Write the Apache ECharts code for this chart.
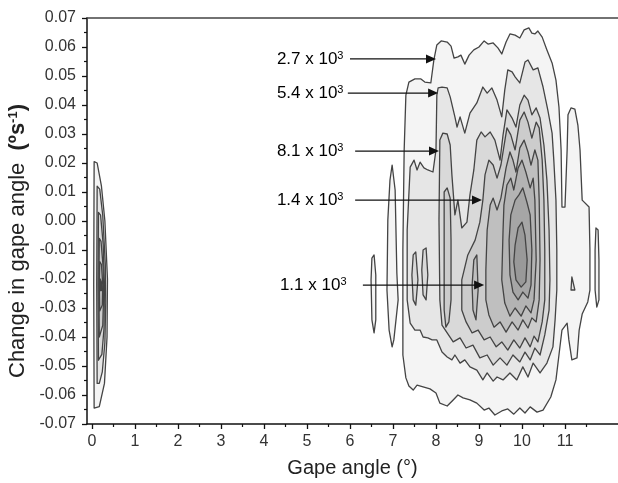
<!DOCTYPE html>
<html><head><meta charset="utf-8">
<script src="https://cdn.jsdelivr.net/npm/echarts@6.0.0/dist/echarts.min.js"></script>
<style>html,body{margin:0;padding:0;background:#fff}#c{width:618px;height:483px}</style>
</head><body><div id="c"></div>
<script>
// ---- axis ticks ----
const xTickValues = [0, 1, 2, 3, 4, 5, 6, 7, 8, 9, 10, 11];
const xMinorTickValues = [0.5, 1.5, 2.5, 3.5, 4.5, 5.5, 6.5, 7.5, 8.5, 9.5, 10.5, 11.5];
const yTickLabels = ['-0.07','-0.06','-0.05','-0.04','-0.03','-0.02','-0.01','0.00','0.01','0.02','0.03','0.04','0.05','0.06','0.07'];

// ---- contour levels (density, counts) ----
const contourLevels = [2700, 5400, 8100, 10800, 13500, 16200, 18900, 21600];

// ---- contour polygons: [gape angle (deg), change in gape angle (deg/s)] ----
const nearZeroLevel1 = [[0.05,0.0205],[0.12,0.020],[0.22,0.012],[0.30,0.000],[0.36,-0.020],[0.35,-0.040],[0.29,-0.056],[0.17,-0.064],[0.05,-0.0645],[0.04,-0.022]];
const nearZeroLevel2 = [[0.12,0.012],[0.18,0.011],[0.25,0.002],[0.31,-0.015],[0.32,-0.028],[0.30,-0.042],[0.24,-0.052],[0.17,-0.056],[0.12,-0.056],[0.11,-0.022]];
const nearZeroLevel3 = [[0.15,0.003],[0.20,0.002],[0.26,-0.008],[0.29,-0.022],[0.28,-0.037],[0.23,-0.046],[0.15,-0.048],[0.14,-0.022]];
const nearZeroLevel4 = [[0.17,-0.006],[0.21,-0.007],[0.26,-0.016],[0.27,-0.026],[0.25,-0.036],[0.17,-0.040],[0.16,-0.022]];
const nearZeroLevel5 = [[0.18,-0.014],[0.22,-0.015],[0.25,-0.022],[0.24,-0.029],[0.18,-0.031],[0.17,-0.022]];
const nearZeroLevel6 = [[0.19,-0.020],[0.22,-0.021],[0.22,-0.024],[0.19,-0.024]];

const mainLevel1 = [[7.23,-0.0462],[7.23,-0.0100],[7.26,0.0245],[7.30,0.0434],[7.37,0.0479],[7.51,0.0490],[7.65,0.0490],[7.74,0.0479],[7.88,0.0476],[7.95,0.0555],[8.02,0.0607],[8.12,0.0621],[8.26,0.0617],[8.35,0.0603],[8.42,0.0562],[8.51,0.0566],[8.58,0.0572],[8.67,0.0541],[8.77,0.0572],[8.88,0.0590],[9.00,0.0600],[9.12,0.0621],[9.21,0.0610],[9.33,0.0614],[9.44,0.0597],[9.53,0.0576],[9.63,0.0617],[9.72,0.0645],[9.84,0.0641],[9.95,0.0631],[10.05,0.0659],[10.16,0.0666],[10.23,0.0648],[10.30,0.0645],[10.37,0.0655],[10.47,0.0634],[10.58,0.0590],[10.70,0.0545],[10.79,0.0486],[10.86,0.0393],[10.91,0.0245],[10.93,0.0048],[11.00,0.0048],[11.05,0.0245],[11.07,0.0366],[11.14,0.0390],[11.23,0.0386],[11.30,0.0331],[11.35,0.0245],[11.40,0.0072],[11.56,0.0048],[11.58,-0.0100],[11.58,-0.0238],[11.53,-0.0279],[11.40,-0.0321],[11.33,-0.0376],[11.28,-0.0472],[11.16,-0.0479],[11.09,-0.0410],[11.05,-0.0352],[10.93,-0.0376],[10.86,-0.0462],[10.79,-0.0548],[10.67,-0.0607],[10.49,-0.0652],[10.35,-0.0659],[10.19,-0.0641],[10.07,-0.0662],[9.95,-0.0645],[9.81,-0.0666],[9.67,-0.0648],[9.53,-0.0655],[9.37,-0.0669],[9.23,-0.0645],[9.12,-0.0652],[8.95,-0.0628],[8.79,-0.0617],[8.63,-0.0610],[8.51,-0.0600],[8.40,-0.0617],[8.26,-0.0638],[8.09,-0.0628],[8.00,-0.0593],[7.86,-0.0579],[7.70,-0.0572],[7.56,-0.0566],[7.47,-0.0583],[7.37,-0.0569],[7.30,-0.0541]];
const islandLevel1A = [[6.51,-0.0128],[6.56,-0.0117],[6.60,-0.0186],[6.60,-0.0341],[6.56,-0.0386],[6.51,-0.0341],[6.49,-0.0203]];
const islandLevel1B = [[6.98,0.0193],[7.05,0.0107],[7.09,-0.0179],[7.12,-0.0272],[7.02,-0.0410],[6.98,-0.0434],[6.91,-0.0376],[6.86,-0.0238],[6.88,0.0003],[6.93,0.0141]];
const islandLevel1C = [[11.72,-0.0024],[11.77,-0.0031],[11.79,-0.0134],[11.79,-0.0272],[11.74,-0.0297],[11.70,-0.0238],[11.70,-0.0100]];
const islandLevel2A = [[11.16,-0.0193],[11.23,-0.0238],[11.14,-0.0238]];

const mainLevel2 = [[7.40,0.0186],[7.49,0.0210],[7.56,0.0176],[7.63,0.0203],[7.72,0.0183],[7.81,0.0176],[7.93,0.0169],[8.00,0.0245],[8.02,0.0434],[8.05,0.0459],[8.14,0.0462],[8.26,0.0459],[8.33,0.0428],[8.44,0.0359],[8.49,0.0324],[8.56,0.0359],[8.67,0.0303],[8.79,0.0372],[8.95,0.0407],[9.09,0.0462],[9.19,0.0441],[9.30,0.0459],[9.42,0.0417],[9.53,0.0359],[9.60,0.0452],[9.67,0.0521],[9.77,0.0514],[9.84,0.0497],[9.95,0.0476],[10.07,0.0548],[10.14,0.0555],[10.26,0.0521],[10.37,0.0528],[10.49,0.0462],[10.60,0.0383],[10.70,0.0303],[10.74,0.0210],[10.79,0.0072],[10.81,-0.0100],[10.81,-0.0238],[10.77,-0.0341],[10.72,-0.0434],[10.58,-0.0490],[10.42,-0.0524],[10.26,-0.0490],[10.14,-0.0538],[10.02,-0.0503],[9.88,-0.0548],[9.72,-0.0524],[9.56,-0.0548],[9.42,-0.0538],[9.33,-0.0552],[9.19,-0.0524],[9.09,-0.0548],[8.95,-0.0514],[8.79,-0.0503],[8.67,-0.0479],[8.56,-0.0490],[8.44,-0.0462],[8.37,-0.0479],[8.26,-0.0469],[8.14,-0.0452],[8.02,-0.0410],[7.91,-0.0410],[7.81,-0.0403],[7.70,-0.0400],[7.63,-0.0376],[7.51,-0.0376],[7.40,-0.0352],[7.33,-0.0272],[7.33,-0.0031]];

const mainLevel3 = [[8.09,0.0279],[8.16,0.0303],[8.26,0.0300],[8.33,0.0262],[8.37,0.0159],[8.44,0.0021],[8.51,0.0072],[8.60,-0.0024],[8.72,-0.0004],[8.79,0.0090],[8.88,0.0176],[8.95,0.0279],[9.05,0.0307],[9.14,0.0290],[9.26,0.0307],[9.37,0.0279],[9.49,0.0210],[9.56,0.0297],[9.65,0.0383],[9.77,0.0355],[9.86,0.0324],[9.95,0.0400],[10.05,0.0434],[10.14,0.0417],[10.23,0.0366],[10.33,0.0390],[10.42,0.0355],[10.51,0.0262],[10.58,0.0141],[10.63,-0.0031],[10.65,-0.0203],[10.63,-0.0307],[10.53,-0.0393],[10.42,-0.0462],[10.30,-0.0438],[10.19,-0.0479],[10.07,-0.0452],[9.95,-0.0486],[9.79,-0.0462],[9.65,-0.0497],[9.49,-0.0472],[9.33,-0.0497],[9.19,-0.0462],[9.02,-0.0472],[8.86,-0.0428],[8.70,-0.0438],[8.56,-0.0403],[8.40,-0.0417],[8.26,-0.0386],[8.14,-0.0359],[8.09,-0.0272],[8.07,0.0003]];
const islandLevel3A = [[7.47,-0.0117],[7.53,-0.0107],[7.58,-0.0203],[7.53,-0.0290],[7.47,-0.0272],[7.44,-0.0186]];
const islandLevel3B = [[7.70,-0.0100],[7.77,-0.0093],[7.81,-0.0186],[7.77,-0.0272],[7.70,-0.0255],[7.67,-0.0169]];

const sideLevel4 = [[8.19,0.0100],[8.26,0.0114],[8.33,0.0079],[8.35,-0.0066],[8.35,-0.0272],[8.30,-0.0348],[8.23,-0.0366],[8.19,-0.0307],[8.19,-0.0031]];
const mainLevel4 = [[9.09,0.0072],[9.14,0.0159],[9.23,0.0210],[9.33,0.0193],[9.42,0.0148],[9.51,0.0193],[9.65,0.0321],[9.74,0.0297],[9.84,0.0245],[9.95,0.0348],[10.05,0.0376],[10.14,0.0341],[10.23,0.0286],[10.33,0.0341],[10.40,0.0321],[10.47,0.0210],[10.51,0.0072],[10.53,-0.0100],[10.53,-0.0272],[10.47,-0.0348],[10.37,-0.0417],[10.28,-0.0397],[10.19,-0.0434],[10.07,-0.0403],[9.95,-0.0438],[9.81,-0.0410],[9.67,-0.0445],[9.53,-0.0417],[9.40,-0.0434],[9.26,-0.0400],[9.12,-0.0410],[8.98,-0.0376],[8.84,-0.0386],[8.70,-0.0348],[8.60,-0.0307],[8.60,-0.0203],[8.74,-0.0117],[8.91,-0.0066],[9.02,-0.0004]];

const mainLevel5 = [[9.16,-0.0169],[9.19,-0.0031],[9.26,0.0055],[9.33,0.0079],[9.42,0.0038],[9.51,0.0079],[9.63,0.0183],[9.72,0.0238],[9.79,0.0210],[9.86,0.0169],[9.95,0.0252],[10.05,0.0279],[10.14,0.0238],[10.21,0.0193],[10.30,0.0245],[10.37,0.0210],[10.40,0.0072],[10.42,-0.0134],[10.40,-0.0272],[10.33,-0.0348],[10.23,-0.0334],[10.14,-0.0369],[10.02,-0.0341],[9.91,-0.0376],[9.77,-0.0348],[9.63,-0.0383],[9.49,-0.0348],[9.35,-0.0366],[9.23,-0.0324],[9.16,-0.0272]];
const islandLevel5A = [[8.88,-0.0134],[8.95,-0.0117],[8.98,-0.0238],[8.93,-0.0341],[8.86,-0.0307],[8.84,-0.0221]];

const mainLevel6 = [[9.56,-0.0031],[9.58,0.0055],[9.65,0.0124],[9.74,0.0148],[9.81,0.0107],[9.91,0.0183],[10.00,0.0210],[10.09,0.0169],[10.19,0.0114],[10.26,0.0148],[10.30,0.0072],[10.33,-0.0134],[10.28,-0.0272],[10.21,-0.0317],[10.09,-0.0293],[9.98,-0.0328],[9.84,-0.0300],[9.72,-0.0328],[9.60,-0.0283],[9.53,-0.0203]];
const mainLevel7 = [[9.70,-0.0066],[9.74,0.0021],[9.84,0.0072],[9.93,0.0090],[10.02,0.0114],[10.12,0.0062],[10.19,0.0021],[10.23,-0.0100],[10.21,-0.0221],[10.14,-0.0266],[10.02,-0.0245],[9.91,-0.0272],[9.79,-0.0245],[9.72,-0.0186]];
const mainLevel8 = [[9.84,-0.0083],[9.91,-0.0024],[10.00,-0.0004],[10.07,-0.0049],[10.12,-0.0134],[10.09,-0.0210],[9.98,-0.0228],[9.86,-0.0203],[9.81,-0.0141]];

// ---- annotations ----
const annotationLabels = ['2.7 x 10', '5.4 x 10', '8.1 x 10', '1.4 x 10', '1.1 x 10'];
const annotationExponent = '3';
const annotationTextX = [4.30, 4.30, 4.30, 4.30, 4.37];
const annotationLineStartX = [6.00, 5.95, 6.12, 6.12, 6.30];
const annotationTipX = [8.00, 8.05, 8.07, 9.07, 9.12];
const annotationY = [0.0559, 0.0441, 0.0241, 0.0072, -0.0221];

// ---- build ----
const shapes = [
  [1, nearZeroLevel1],[1, mainLevel1],[1, islandLevel1A],[1, islandLevel1B],[1, islandLevel1C],
  [2, nearZeroLevel2],[2, mainLevel2],[2, islandLevel2A],
  [3, nearZeroLevel3],[3, mainLevel3],[3, islandLevel3A],[3, islandLevel3B],
  [4, nearZeroLevel4],[4, sideLevel4],[4, mainLevel4],
  [5, nearZeroLevel5],[5, mainLevel5],[5, islandLevel5A],
  [6, nearZeroLevel6],[6, mainLevel6],
  [7, mainLevel7],
  [8, mainLevel8]
];
const levelFills = ['#f4f4f4','#e6e6e6','#d9d9d9','#cccccc','#bfbfbf','#b3b3b3','#a6a6a6','#999999'];

const chart = echarts.init(document.getElementById('c'), null, {renderer: 'canvas'});
const FONT = 'Liberation Sans, Arial, sans-serif';
const xMin = -0.116, xMax = 12.233;

chart.setOption({
  animation: false,
  backgroundColor: '#fff',
  grid: {left: 87, right: 0, top: 18, bottom: 59, containLabel: false, outerBoundsMode: 'none'},
  xAxis: [
    {type: 'value', min: xMin, max: xMax, position: 'bottom',
     name: 'Gape angle (°)', nameLocation: 'middle', nameGap: 34,
     nameTextStyle: {fontFamily: FONT, fontSize: 20, color: '#222'},
     axisLine: {show: true, onZero: false, lineStyle: {color: '#111', width: 1.5}},
     axisTick: {show: true, customValues: xTickValues, length: 5, lineStyle: {color: '#111', width: 1.3}},
     axisLabel: {show: true, customValues: xTickValues, fontFamily: FONT, fontSize: 16, color: '#333', margin: 10},
     splitLine: {show: false}},
    {type: 'value', min: xMin, max: xMax, position: 'bottom', gridIndex: 0,
     axisLine: {show: false, onZero: false},
     axisTick: {show: true, customValues: xMinorTickValues, length: 3, lineStyle: {color: '#111', width: 1.2}},
     axisLabel: {show: false}, splitLine: {show: false}},
    {type: 'value', min: xMin, max: xMax, position: 'top', gridIndex: 0,
     axisLine: {show: true, onZero: false, lineStyle: {color: '#444', width: 1.5}},
     axisTick: {show: false}, axisLabel: {show: false}, splitLine: {show: false}}
  ],
  yAxis: [{
    type: 'value', min: -0.07, max: 0.07, interval: 0.01,
    name: '{a|Change in gape angle  }{b|(ºs}{c|-1}{b|)}', nameLocation: 'middle', nameGap: 58, nameRotate: 90,
    nameTextStyle: {fontFamily: FONT, fontSize: 22, color: '#222', padding: [0, 40, 0, 0],
      rich: {a: {fontFamily: FONT, fontSize: 22, color: '#222'},
             b: {fontFamily: FONT, fontSize: 22, fontWeight: 'bold', color: '#222'},
             c: {fontFamily: FONT, fontSize: 13, fontWeight: 'bold', color: '#222', verticalAlign: 'top'}}},
    axisLine: {show: true, onZero: false, lineStyle: {color: '#111', width: 1.5}},
    axisTick: {show: true, length: 5, lineStyle: {color: '#111', width: 1.3}},
    minorTick: {show: true, splitNumber: 2, length: 3, lineStyle: {color: '#111', width: 1.2}},
    axisLabel: {fontFamily: FONT, fontSize: 16, color: '#333', margin: 11,
      formatter: function (v) { const k = Math.round(v * 100) + 7; return yTickLabels[k]; }},
    splitLine: {show: false}
  }],
  series: [
    {
      type: 'custom', name: 'density', xAxisIndex: 0, yAxisIndex: 0, z: 2,
      data: shapes.map(function (s, i) { return {value: [0, 0], level: s[0]}; }),
      renderItem: function (params, api) {
        const s = shapes[params.dataIndex];
        const pts = s[1].map(function (p) { return api.coord(p); });
        return {type: 'polygon', shape: {points: pts},
          style: {fill: levelFills[s[0] - 1], stroke: '#444', lineWidth: 1.3, lineJoin: 'round'}};
      }
    },
    {
      type: 'custom', name: 'annotations', xAxisIndex: 0, yAxisIndex: 0, z: 5,
      data: annotationLabels.map(function () { return [0, 0]; }),
      renderItem: function (params, api) {
        const i = params.dataIndex;
        const s = api.coord([annotationLineStartX[i], annotationY[i]]);
        const t = api.coord([annotationTipX[i], annotationY[i]]);
        const tx = api.coord([annotationTextX[i], annotationY[i]]);
        return {type: 'group', children: [
          {type: 'line', shape: {x1: s[0], y1: s[1], x2: t[0] - 7, y2: t[1]}, style: {stroke: '#111', lineWidth: 1.4}},
          {type: 'polygon', shape: {points: [[t[0], t[1]], [t[0] - 10, t[1] - 4.5], [t[0] - 10, t[1] + 4.5]]}, style: {fill: '#111'}},
          {type: 'text', x: tx[0], y: tx[1], style: {
            text: '{n|' + annotationLabels[i] + '}{s|' + annotationExponent + '}',
            align: 'left', verticalAlign: 'middle',
            rich: {n: {fontFamily: FONT, fontSize: 17, color: '#222'},
                   s: {fontFamily: FONT, fontSize: 11, color: '#222', verticalAlign: 'top'}}}}
        ]};
      }
    }
  ]
});
</script>
</body></html>
